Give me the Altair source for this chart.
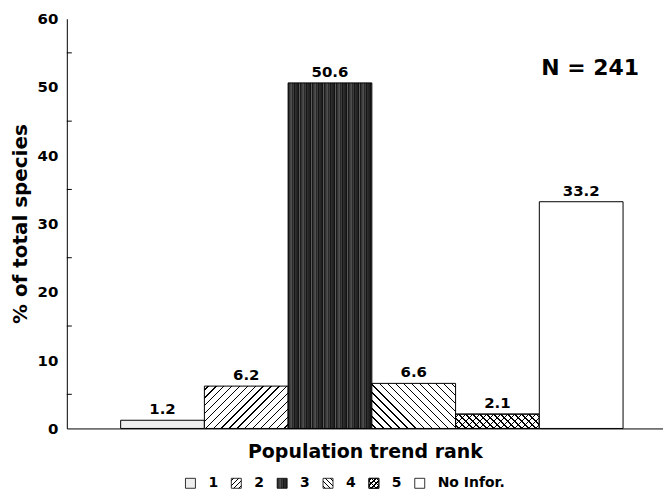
import altair as alt
import pandas as pd

# ---------------- data ----------------
ranks = ["1", "2", "3", "4", "5", "No Infor."]
percent = [1.2, 6.2, 50.6, 6.6, 2.1, 33.2]
y_label_values = [0, 10, 20, 30, 40, 50, 60]
y_minor_values = [5, 15, 25, 35, 45, 55]
legend_keys = ["1", "2", "3", "4", "5", "No Infor."]
annotation = ["N = 241"]

# ---------------- style / layout ----------------
FONT = "DejaVu Sans"
W, H = 598, 411
YMAX = 60
PX = H / YMAX
X_PAD_OUTER = 0.56
X_ALIGN = 0.574
STEP = W / (len(ranks) + 2 * X_PAD_OUTER)


def stripe_stops(n, thick, bg, fg):
    stops = [{"offset": 0, "color": bg}]
    for k in range(n):
        c = (k + 0.5) / n
        lo, hi = max(c - thick / 2, 0), min(c + thick / 2, 1)
        stops += [
            {"offset": lo, "color": bg},
            {"offset": lo, "color": fg},
            {"offset": hi, "color": fg},
            {"offset": hi, "color": bg},
        ]
    stops.append({"offset": 1, "color": bg})
    return stops


def hatch(w, h, spacing, direction, bg="#ffffff", fg="#000000", lw=1.4):
    r = w / h
    b = (r + 1) / (r * r + 1)
    a = r * b
    n = max(1, round((w + h) / spacing))
    thick = lw / (w + h)
    if direction == "/":
        x1, y1, x2, y2 = 0, 0, a, b
    else:
        x1, y1, x2, y2 = 0, 1, a, 1 - b
    return {"gradient": "linear", "x1": x1, "y1": y1, "x2": x2, "y2": y2,
            "stops": stripe_stops(n, thick, bg, fg)}


STREAK_GRAYS = ["#1a1a1a", "#3c3c3c", "#121212", "#4e4e4e", "#262626", "#333333",
                "#161616", "#5a5a5a", "#2a2a2a", "#202020", "#444444", "#2e2e2e"]


def streaks(m):
    stops = []
    for i in range(m):
        g = STREAK_GRAYS[(i * 5) % len(STREAK_GRAYS)]
        stops += [{"offset": i / m, "color": g}, {"offset": (i + 1) / m, "color": g}]
    return {"gradient": "linear", "x1": 0, "y1": 0, "x2": 1, "y2": 0, "stops": stops}


def bar_h(r):
    return percent[ranks.index(r)] * PX


CLEAR = "rgba(255,255,255,0)"
bar_fills = {
    "1": "#eeeeee",
    "2": hatch(STEP, bar_h("2"), 8, "/"),
    "3": streaks(84),
    "4": hatch(STEP, bar_h("4"), 8, "\\"),
    "5": hatch(STEP, bar_h("5"), 7, "/"),
    "No Infor.": "#ffffff",
}
bar_overlays = {"5": hatch(STEP, bar_h("5"), 7, "\\", bg=CLEAR)}

SW = 10  # legend swatch side
legend_fills = {
    "1": "#eeeeee",
    "2": hatch(SW, SW, 4.5, "/"),
    "3": streaks(10),
    "4": hatch(SW, SW, 4.5, "\\"),
    "5": hatch(SW, SW, 4.5, "/"),
    "No Infor.": "#ffffff",
}
legend_overlays = {"5": hatch(SW, SW, 4.5, "\\", bg=CLEAR)}

df = pd.DataFrame({"trend_rank": ranks, "percent": percent})
minor_df = pd.DataFrame({"percent": y_minor_values})
ann_df = pd.DataFrame({"label": annotation})
leg_df = pd.DataFrame({"key": legend_keys})

xscale = alt.Scale(domain=ranks, paddingInner=0, paddingOuter=X_PAD_OUTER, align=X_ALIGN)
yscale = alt.Scale(domain=[0, YMAX], nice=False, zero=True)

x_axis = alt.Axis(labels=False, ticks=False, grid=False, domainColor="black", domainWidth=1,
                  title="Population trend rank", titleFont=FONT, titleFontSize=19,
                  titleFontWeight="bold", titleColor="black", titlePadding=14)
y_axis = alt.Axis(values=y_label_values, ticks=False, tickSize=0, grid=False,
                  domainColor="black", domainWidth=1,
                  labelFont=FONT, labelFontSize=15, labelFontWeight="bold", labelColor="black",
                  labelPadding=9, title="% of total species", titleFont=FONT, titleFontSize=20,
                  titleFontWeight="bold", titleColor="black", titlePadding=7)

X = alt.X("trend_rank:N", scale=xscale, axis=x_axis, sort=ranks)
Y = alt.Y("percent:Q", scale=yscale, axis=y_axis)

base = alt.Chart(df).encode(x=X, y=Y)

layers = []
for r in ranks:
    layers.append(
        base.transform_filter(alt.datum.trend_rank == r)
        .mark_bar(fill=bar_fills[r], stroke="black", strokeWidth=1)
    )
    if r in bar_overlays:
        layers.append(
            base.transform_filter(alt.datum.trend_rank == r)
            .mark_bar(fill=bar_overlays[r], stroke="black", strokeWidth=1)
        )

values_text = base.mark_text(baseline="bottom", dy=-3, font=FONT, fontSize=15,
                             fontWeight="bold", color="black").encode(
    text=alt.Text("percent:Q", format=".1f"))

minor_ticks = alt.Chart(minor_df).mark_rule(color="black", strokeWidth=1).encode(
    y=Y, x=alt.value(0), x2=alt.value(5))

ann = alt.Chart(ann_df).mark_text(font=FONT, fontSize=22, fontWeight="bold", color="black",
                                  align="center", baseline="middle").encode(
    x=alt.value(525), y=alt.value(49), text="label:N")

main = alt.layer(*layers, values_text, minor_ticks, ann).properties(width=W, height=H)

# legend row: 6 items with a 46px step, left-aligned inside a wider centred view
# (two empty trailing slots keep the items to the left of the centred view)
LEG_W = 396
LEG_STEP = 46
leg_domain = legend_keys + ["_slot_a", "_slot_b"]
leg_pad_outer = (LEG_W / LEG_STEP - len(leg_domain)) / 2
LX = alt.X("key:N", sort=legend_keys,
           scale=alt.Scale(type="band", domain=leg_domain, paddingInner=0,
                           paddingOuter=leg_pad_outer, align=0),
           axis=None)
leg_base = alt.Chart(leg_df).encode(x=LX, y=alt.value(6))
leg_layers = []
for k in legend_keys:
    leg_layers.append(
        leg_base.transform_filter(alt.datum.key == k)
        .mark_square(size=SW * SW, fill=legend_fills[k], stroke="black", strokeWidth=0.8, opacity=1)
    )
    if k in legend_overlays:
        leg_layers.append(
            leg_base.transform_filter(alt.datum.key == k)
            .mark_square(size=SW * SW, fill=legend_overlays[k], stroke="black", strokeWidth=0.8,
                         opacity=1)
        )
leg_text = leg_base.mark_text(align="left", baseline="middle", dx=18, font=FONT, fontSize=14,
                              fontWeight="bold", color="black").encode(text="key:N")
legend = alt.layer(*leg_layers, leg_text).properties(width=LEG_W, height=12)

chart = alt.vconcat(main, legend, spacing=15, center=True).properties(
    padding={"left": 2, "top": 3, "right": 0, "bottom": 0},
    background="white",
).configure_view(strokeWidth=0)

chart.save("out.html", embed_options={"renderer": "svg", "actions": False})
